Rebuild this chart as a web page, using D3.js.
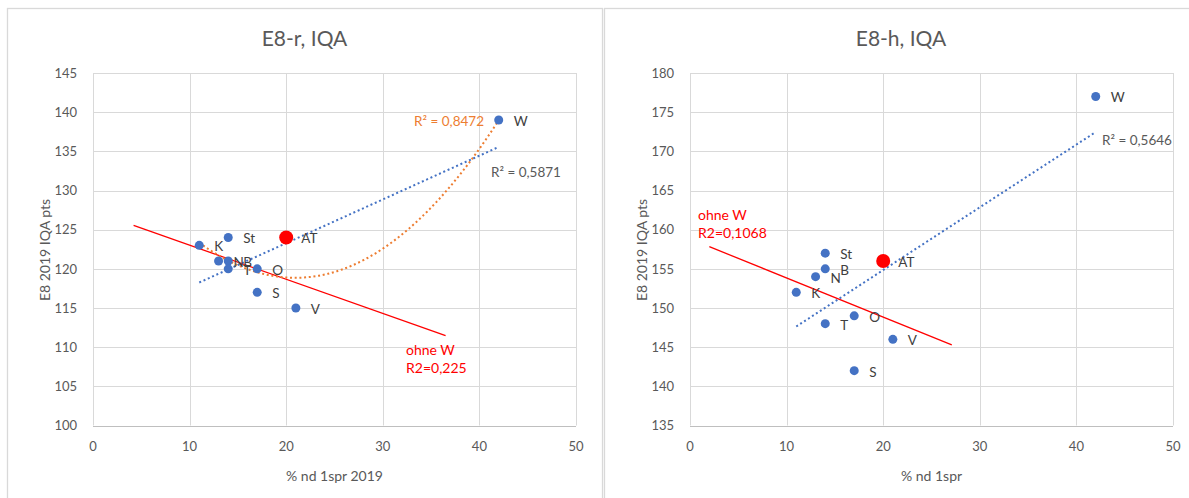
<!DOCTYPE html>
<html>
<head>
<meta charset="utf-8">
<script src="https://cdn.jsdelivr.net/npm/d3@7"></script>
<style>
  body { margin: 0; background: #fff; }
  svg { font-family: Lato, "Open Sans", sans-serif; }
</style>
</head>
<body>
<svg id="chart" width="1189" height="498"></svg>
<script>
// data
const names = ["K", "N", "B", "T", "St", "O", "S", "V", "W"]
const pctNd = [11, 13, 14, 14, 14, 17, 17, 21, 42]
const iqaR = [123, 121, 121, 120, 124, 120, 117, 115, 139]
const iqaH = [152, 154, 155, 148, 157, 149, 142, 146, 177]

// Austria point (drawn red, not part of the linear trendline)
const atName = "AT"
const atPct = 20
const atR = 124
const atH = 156

// axis ticks
const xTicks = [0, 10, 20, 30, 40, 50]
const yTicksR = [100, 105, 110, 115, 120, 125, 130, 135, 140, 145]
const yTicksH = [135, 140, 145, 150, 155, 160, 165, 170, 175, 180]

// R² texts shown on the charts
const r2LinR = "R² = 0,5871"
const r2PolyR = "R² = 0,8472"
const r2LinH = "R² = 0,5646"
const ohneR = ["ohne W", "R2=0,225"]
const ohneH = ["ohne W", "R2=0,1068"]

// x-range of the hand drawn "ohne W" lines
const ohneRangeR = [4.2, 36.5]
const ohneRangeH = [2.0, 27.1]

const svg = d3.select("#chart")

// least squares fit, returns coefficients [a0, a1, ...] for polynomial of given order
function polyFit(xs, ys, order) {
  var n = order + 1
  var A = [], b = []
  for (var i = 0; i < n; i++) {
    A.push([])
    for (var j = 0; j < n; j++) A[i].push(d3.sum(xs, x => Math.pow(x, i + j)))
    b.push(d3.sum(xs, (x, k) => Math.pow(x, i) * ys[k]))
  }
  // gauss elimination
  for (var c = 0; c < n; c++) {
    for (var r = c + 1; r < n; r++) {
      var f = A[r][c] / A[c][c]
      for (var k = c; k < n; k++) A[r][k] -= f * A[c][k]
      b[r] -= f * b[c]
    }
  }
  var coef = new Array(n).fill(0)
  for (var r = n - 1; r >= 0; r--) {
    var s = b[r]
    for (var k = r + 1; k < n; k++) s -= A[r][k] * coef[k]
    coef[r] = s / A[r][r]
  }
  return coef
}
function polyEval(coef, x) {
  return coef.reduce((acc, c, i) => acc + c * Math.pow(x, i), 0)
}

function drawChart(cfg) {
  const g = svg.append("g")

  // chart frame
  g.append("rect")
    .attr("x", cfg.box[0] + 0.5).attr("y", 8.5)
    .attr("width", cfg.box[1] - cfg.box[0]).attr("height", 520)
    .attr("fill", "#fff").attr("stroke", "#d9d9d9").attr("stroke-width", 1.3)

  const x = d3.scaleLinear().domain([0, 50]).range([cfg.left, cfg.left + 483])
  const y = d3.scaleLinear().domain(cfg.yDomain).range([425.5, 73])

  // gridlines
  g.append("g").selectAll("line")
    .data(cfg.yTicks)
    .join("line")
    .attr("x1", x(0)).attr("x2", x(50))
    .attr("y1", d => Math.round(y(d)) + 0.5).attr("y2", d => Math.round(y(d)) + 0.5)
    .attr("stroke", (d, i) => i === 0 ? "#bfbfbf" : "#d9d9d9")
  g.append("g").selectAll("line")
    .data(xTicks)
    .join("line")
    .attr("x1", d => Math.round(x(d)) + 0.5).attr("x2", d => Math.round(x(d)) + 0.5)
    .attr("y1", y(cfg.yDomain[0])).attr("y2", y(cfg.yDomain[1]))
    .attr("stroke", "#d9d9d9")

  // tick labels
  g.append("g").selectAll("text")
    .data(cfg.yTicks)
    .join("text")
    .attr("x", x(0) - 16).attr("y", d => y(d))
    .attr("dy", "0.36em").attr("text-anchor", "end")
    .attr("font-size", 13).attr("fill", "#595959")
    .text(d => d)
  g.append("g").selectAll("text")
    .data(xTicks)
    .join("text")
    .attr("x", d => x(d)).attr("y", y(cfg.yDomain[0]) + 21)
    .attr("dy", "0.36em").attr("text-anchor", "middle")
    .attr("font-size", 13).attr("fill", "#595959")
    .text(d => d)

  // titles
  g.append("text")
    .attr("x", (cfg.box[0] + cfg.box[1]) / 2).attr("y", 38).attr("dy", "0.36em")
    .attr("text-anchor", "middle").attr("font-size", 21).attr("fill", "#595959")
    .text(cfg.title)
  g.append("text")
    .attr("x", x(25)).attr("y", 476).attr("dy", "0.36em")
    .attr("text-anchor", "middle").attr("font-size", 14).attr("fill", "#595959")
    .text(cfg.xTitle)
  g.append("text")
    .attr("transform", `translate(${x(0) - 48},250) rotate(-90)`)
    .attr("x", 0).attr("y", 0).attr("dy", "0.36em")
    .attr("text-anchor", "middle").attr("font-size", 14).attr("fill", "#595959")
    .text("E8 2019 IQA pts")

  const dots = names.map((n, i) => ({ name: n, x: pctNd[i], y: cfg.values[i] }))
  const xExt = d3.extent(pctNd)

  // red "ohne W" line: fit without W, AT included
  const ohneX = pctNd.slice(0, -1).concat([atPct])
  const ohneY = cfg.values.slice(0, -1).concat([cfg.at])
  const ohneC = polyFit(ohneX, ohneY, 1)
  g.append("line")
    .attr("x1", x(cfg.ohneRange[0])).attr("y1", y(polyEval(ohneC, cfg.ohneRange[0])))
    .attr("x2", x(cfg.ohneRange[1])).attr("y2", y(polyEval(ohneC, cfg.ohneRange[1])))
    .attr("stroke", "#ff0000").attr("stroke-width", 1.3)

  // polynomial trendline (order 2), AT included
  if (cfg.r2Poly) {
    const pc = polyFit(pctNd.concat([atPct]), cfg.values.concat([cfg.at]), 2)
    const pts = d3.range(0, 101).map(k => xExt[0] + (xExt[1] - xExt[0]) * k / 100)
    g.append("path")
      .datum(pts)
      .attr("fill", "none").attr("stroke", "#ed7d31")
      .attr("stroke-width", 2).attr("stroke-dasharray", "2,2.7")
      .attr("d", d3.line().x(d => x(d)).y(d => y(polyEval(pc, d))))
  }

  // linear trendline
  const lc = polyFit(pctNd, cfg.values, 1)
  g.append("line")
    .attr("x1", x(xExt[0])).attr("y1", y(polyEval(lc, xExt[0])))
    .attr("x2", x(xExt[1])).attr("y2", y(polyEval(lc, xExt[1])))
    .attr("stroke", "#4472c4").attr("stroke-width", 2).attr("stroke-dasharray", "2,2.7")

  // points
  g.append("g").selectAll("circle")
    .data(dots)
    .join("circle")
    .attr("cx", d => x(d.x)).attr("cy", d => y(d.y)).attr("r", 4.5)
    .attr("fill", "#4472c4")
  g.append("circle")
    .attr("cx", x(atPct)).attr("cy", y(cfg.at)).attr("r", 7)
    .attr("fill", "#ff0000")

  // point labels
  g.append("g").selectAll("text")
    .data(dots.concat([{ name: atName, x: atPct, y: cfg.at }]))
    .join("text")
    .attr("x", d => x(d.x) + 15).attr("y", d => y(d.y) + 1)
    .attr("dy", "0.36em").attr("font-size", 13.5).attr("fill", "#404040")
    .text(d => d.name)

  // R² labels
  g.append("text")
    .attr("x", cfg.r2LinPos[0]).attr("y", cfg.r2LinPos[1]).attr("dy", "0.36em")
    .attr("font-size", 13.5).attr("fill", "#595959")
    .text(cfg.r2Lin)
  if (cfg.r2Poly) {
    g.append("text")
      .attr("x", cfg.r2PolyPos[0]).attr("y", cfg.r2PolyPos[1]).attr("dy", "0.36em")
      .attr("text-anchor", "end").attr("font-size", 13.5).attr("fill", "#ed7d31")
      .text(cfg.r2Poly)
  }
  g.append("g").selectAll("text")
    .data(cfg.ohne)
    .join("text")
    .attr("x", cfg.ohnePos[0]).attr("y", (d, i) => cfg.ohnePos[1] + i * 17.5).attr("dy", "0.36em")
    .attr("font-size", 14).attr("fill", "#ff0000")
    .text(d => d)
}

drawChart({
  box: [7, 602], left: 93, yDomain: [100, 145], yTicks: yTicksR,
  title: "E8-r, IQA", xTitle: "% nd 1spr 2019",
  values: iqaR, at: atR,
  ohneRange: ohneRangeR, ohne: ohneR, ohnePos: [406, 350],
  r2Lin: r2LinR, r2LinPos: [491, 172],
  r2Poly: r2PolyR, r2PolyPos: [484, 121]
})

drawChart({
  box: [604, 1198], left: 690, yDomain: [135, 180], yTicks: yTicksH,
  title: "E8-h, IQA", xTitle: "% nd 1spr",
  values: iqaH, at: atH,
  ohneRange: ohneRangeH, ohne: ohneH, ohnePos: [698, 215],
  r2Lin: r2LinH, r2LinPos: [1102, 140]
})
</script>
</body>
</html>
